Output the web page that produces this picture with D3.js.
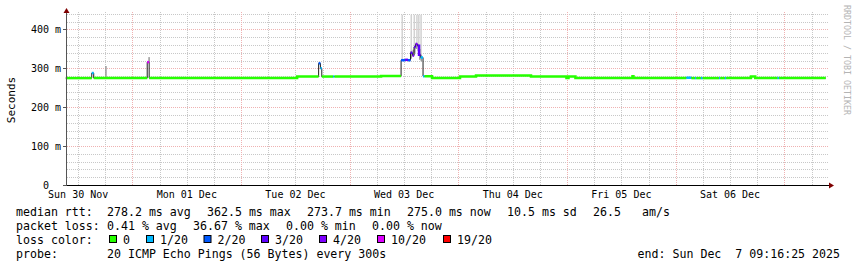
<!DOCTYPE html>
<html>
<head>
<meta charset="utf-8">
<script src="https://cdn.jsdelivr.net/npm/d3@7"></script>
<style>
  body { margin: 0; background: #fff; }
  svg { display: block; }
  text { font-family: "DejaVu Sans Mono", monospace; fill: #000; }
</style>
</head>
<body>
<div id="chart"></div>
<script>
const parseTime = d3.timeParse("%Y-%m-%d %H:%M");

// median rtt in ms, and lost pings out of 20, each value holds until the next time
const medTimes = [
  "2025-11-30 09:16", "2025-11-30 15:00", "2025-11-30 15:26", "2025-12-01 03:15", "2025-12-01 03:41",
  "2025-12-02 12:22", "2025-12-02 17:07", "2025-12-02 17:31", "2025-12-02 17:49", "2025-12-02 20:19",
  "2025-12-02 20:36", "2025-12-03 06:55", "2025-12-03 11:20", "2025-12-03 12:13", "2025-12-03 12:52",
  "2025-12-03 13:25", "2025-12-03 13:52", "2025-12-03 14:12", "2025-12-03 14:32", "2025-12-03 14:58",
  "2025-12-03 15:18", "2025-12-03 15:38", "2025-12-03 16:11", "2025-12-03 16:31", "2025-12-03 18:10",
  "2025-12-04 00:21", "2025-12-04 03:53", "2025-12-04 16:02", "2025-12-04 23:52", "2025-12-05 00:19",
  "2025-12-05 01:51", "2025-12-05 14:27", "2025-12-05 14:40", "2025-12-06 02:22", "2025-12-06 03:28",
  "2025-12-06 04:15", "2025-12-06 04:32", "2025-12-06 05:34", "2025-12-06 05:57", "2025-12-06 09:36",
  "2025-12-06 09:50", "2025-12-06 10:52", "2025-12-06 11:09", "2025-12-06 16:37", "2025-12-06 17:34",
  "2025-12-06 22:30", "2025-12-06 22:48", "2025-12-07 09:09"
];
const medValues = [
  275, 288, 275, 316, 275,
  279, 313, 300, 279, 279,
  279, 280.5, 321, 322, 321,
  340, 333, 355, 362.5, 358,
  335, 328, 280, 279.5, 275,
  279, 281.5, 279, 275, 279,
  275, 280, 275, 276, 275,
  275, 275, 275, 275, 275,
  275, 275, 275, 279, 275,
  275, 275, 275
];
const medLoss = [
  0, 1, 0, 10, 0,
  0, 2, 1, 0, 1,
  0, 0, 2, 3, 2,
  3, 4, 3, 4, 3,
  3, 1, 1, 0, 0,
  0, 0, 0, 0, 0,
  0, 0, 0, 1, 0,
  1, 0, 1, 0, 1,
  0, 1, 0, 0, 0,
  1, 0, 0
];

// smoke: spread of the single pings
const smokeTimes = ["2025-12-03 11:25", "2025-12-03 13:25", "2025-12-03 14:05", "2025-12-03 14:40", "2025-12-03 15:05", "2025-12-03 15:35"];
const smokeLow = [322, 330, 335, 350, 345, 330];
const smokeHigh = [438, 438, 438, 438, 438, 438];

const coreTimes = ["2025-11-30 17:58", "2025-12-01 03:30", "2025-12-03 13:25", "2025-12-03 13:52", "2025-12-03 14:12",
  "2025-12-03 14:32", "2025-12-03 14:58", "2025-12-03 15:18", "2025-12-03 15:38"];
const coreLow = [275, 316, 325, 330, 340, 350, 345, 322, 318];
const coreHigh = [306, 329, 345, 348, 358, 366, 362, 350, 335];

const dayTicks = ["2025-11-30 12:00", "2025-12-01 12:00", "2025-12-02 12:00", "2025-12-03 12:00",
  "2025-12-04 12:00", "2025-12-05 12:00", "2025-12-06 12:00"];
const dayLabels = ["Sun 30 Nov", "Mon 01 Dec", "Tue 02 Dec", "Wed 03 Dec", "Thu 04 Dec", "Fri 05 Dec", "Sat 06 Dec"];

const yTicks = [0, 100, 200, 300, 400];
const yLabels = ["0  ", "100 m", "200 m", "300 m", "400 m"];

const lossLabels = ["0", "1/20", "2/20", "3/20", "4/20", "10/20", "19/20"];

const rttLabel = "median rtt:";
const rttStats = ["278.2 ms avg", "362.5 ms max", "273.7 ms min", "275.0 ms now", "10.5 ms sd", "26.5", "am/s"];
const lossLabel = "packet loss:";
const lossStats = ["0.41 % avg", "36.67 % max", "0.00 % min", "0.00 % now"];
const probeLabel = "probe:";
const probeText = "20 ICMP Echo Pings (56 Bytes) every 300s";
const endText = "end: Sun Dec  7 09:16:25 2025";

const width = 857, height = 267;
const plotLeft = 67, plotRight = 829, plotTop = 12, plotBottom = 185;

const svg = d3.select("#chart").append("svg")
  .attr("width", width)
  .attr("height", height);

svg.append("rect").attr("width", width).attr("height", height).attr("fill", "#fff");

const x = d3.scaleTime()
  .domain([parseTime("2025-11-30 09:16"), parseTime("2025-12-07 09:16")])
  .range([65.8, 826.3]);

const y = d3.scaleLinear()
  .domain([0, 445])
  .range([plotBottom, plotTop]);

const lossColor = d3.scaleThreshold()
  .domain([1, 2, 3, 4, 5, 11])
  .range(["#26ff00", "#00b8ff", "#0059ff", "#5e00ff", "#7e00ff", "#dd00ff", "#ff0000"]);

// grid
const grid = svg.append("g");
const minorY = d3.range(20, 445, 20).filter(v => v % 100 !== 0);
grid.selectAll(".hmin").data(minorY).enter().append("line")
  .attr("x1", plotLeft).attr("x2", plotRight)
  .attr("y1", d => Math.round(y(d)) + 0.5).attr("y2", d => Math.round(y(d)) + 0.5)
  .attr("stroke", "#c8c8c8").attr("stroke-dasharray", "1,1");

const sixHours = d3.timeHour.every(6).range(x.domain()[0], x.domain()[1]);
grid.selectAll(".vgrid").data(sixHours).enter().append("line")
  .attr("x1", d => Math.round(x(d)) + 0.5).attr("x2", d => Math.round(x(d)) + 0.5)
  .attr("y1", plotTop).attr("y2", plotBottom)
  .attr("stroke", d => d.getHours() === 0 ? "#efb2b2" : "#c8c8c8")
  .attr("stroke-dasharray", "1,1");

grid.selectAll(".hmaj").data(yTicks.slice(1)).enter().append("line")
  .attr("x1", plotLeft).attr("x2", plotRight)
  .attr("y1", d => Math.round(y(d)) + 0.5).attr("y2", d => Math.round(y(d)) + 0.5)
  .attr("stroke", "#efb2b2").attr("stroke-dasharray", "1,1");

// smoke
const plot = svg.append("g");
const step = 20 * 60 * 1000;
plot.selectAll(".smoke").data(smokeTimes).enter().append("rect")
  .attr("x", d => x(parseTime(d)))
  .attr("width", d => x(new Date(+parseTime(d) + step)) - x(parseTime(d)))
  .attr("y", (d, i) => y(smokeHigh[i]))
  .attr("height", (d, i) => y(smokeLow[i]) - y(smokeHigh[i]))
  .attr("fill", "#d2d2d2");

plot.selectAll(".core").data(coreTimes).enter().append("rect")
  .attr("x", d => x(parseTime(d)))
  .attr("width", d => x(new Date(+parseTime(d) + step)) - x(parseTime(d)))
  .attr("y", (d, i) => y(coreHigh[i]))
  .attr("height", (d, i) => y(coreLow[i]) - y(coreHigh[i]))
  .attr("fill", "#999");

// median line, black underneath, coloured by loss on top
const pts = medTimes.map((t, i) => ({ t: parseTime(t), v: medValues[i], loss: medLoss[i] }));
const line = d3.line().x(d => x(d.t)).y(d => y(d.v)).curve(d3.curveStepAfter);

plot.append("path").datum(pts)
  .attr("d", line)
  .attr("fill", "none").attr("stroke", "#202020").attr("stroke-width", 1);

// split into runs of one colour, big jumps stay black
const runs = [];
for (let i = 0; i < pts.length - 1; i++) {
  const c = lossColor(pts[i].loss);
  const last = runs[runs.length - 1];
  const jump = i > 0 ? Math.abs(pts[i].v - pts[i - 1].v) : 0;
  if (!last || last.color !== c || jump > 30) {
    if (last && last.open) { last.pts.push({ t: pts[i].t, v: pts[i - 1].v }); last.open = false; }
    runs.push({ color: c, pts: [], open: true });
  }
  runs[runs.length - 1].pts.push(pts[i]);
}
const lastRun = runs[runs.length - 1];
lastRun.pts.push({ t: pts[pts.length - 1].t, v: pts[pts.length - 2].v });

plot.selectAll(".run").data(runs).enter().append("path")
  .attr("d", d => line(d.pts))
  .attr("fill", "none")
  .attr("stroke", d => d.color)
  .attr("stroke-width", 2.5);

// axes
svg.append("line").attr("x1", plotLeft - 0.5).attr("x2", 830).attr("y1", plotBottom + 0.5).attr("y2", plotBottom + 0.5)
  .attr("stroke", "#000");
svg.append("line").attr("x1", plotLeft - 0.5).attr("x2", plotLeft - 0.5).attr("y1", plotBottom + 1).attr("y2", 11)
  .attr("stroke", "#555");
svg.append("path").attr("d", "M829,182.5L834,185.5L829,188.5Z").attr("fill", "#7f0000");
svg.append("path").attr("d", "M63.5,13L66.5,8L69.5,13Z").attr("fill", "#7f0000");

svg.selectAll(".ytick").data(yTicks).enter().append("line")
  .attr("x1", plotLeft - 4).attr("x2", plotLeft)
  .attr("y1", d => Math.round(y(d)) + 0.5).attr("y2", d => Math.round(y(d)) + 0.5)
  .attr("stroke", "#555");

svg.selectAll(".ylab").data(yLabels).enter().append("text")
  .attr("x", 61)
  .attr("y", (d, i) => y(yTicks[i]) + 3.5)
  .attr("text-anchor", "end")
  .attr("font-size", 10)
  .style("white-space", "pre")
  .text(d => d);

svg.selectAll(".xlab").data(dayLabels).enter().append("text")
  .attr("x", (d, i) => x(parseTime(dayTicks[i])))
  .attr("y", 198)
  .attr("text-anchor", "middle")
  .attr("font-size", 10)
  .text(d => d);

svg.append("text")
  .attr("transform", "translate(15,100) rotate(-90)")
  .attr("text-anchor", "middle")
  .attr("font-size", 11)
  .text("Seconds");

svg.append("text")
  .attr("transform", "translate(844,5) rotate(90)")
  .attr("font-size", 8.3)
  .style("fill", "#b4b4b4")
  .text("RRDTOOL / TOBI OETIKER");

// legend
const fs = 11.6;
const rowY = [215.5, 229.5, 243.5, 257.5];
const rttX = [107, 207, 307, 407, 507, 593, 642];
const lossX = [107, 193, 286, 372];

svg.append("text").attr("x", 16).attr("y", rowY[0]).attr("font-size", fs).text(rttLabel);
svg.selectAll(".rtt").data(rttStats).enter().append("text")
  .attr("x", (d, i) => rttX[i]).attr("y", rowY[0]).attr("font-size", fs).text(d => d);

svg.append("text").attr("x", 16).attr("y", rowY[1]).attr("font-size", fs).text(lossLabel);
svg.selectAll(".pl").data(lossStats).enter().append("text")
  .attr("x", (d, i) => lossX[i]).attr("y", rowY[1]).attr("font-size", fs).text(d => d);

svg.append("text").attr("x", 16).attr("y", rowY[2]).attr("font-size", fs).text("loss color:");
const boxX = [109, 146, 203.5, 261, 319, 377, 443];
const lossLevels = [0, 1, 2, 3, 4, 10, 19];
const leg = svg.selectAll(".lc").data(lossLabels).enter().append("g")
  .attr("transform", (d, i) => `translate(${boxX[i]},0)`);
leg.append("rect")
  .attr("x", 0.5).attr("y", 235.5).attr("width", 7).attr("height", 7)
  .attr("fill", (d, i) => lossColor(lossLevels[i]))
  .attr("stroke", "#000");
leg.append("text")
  .attr("x", 14).attr("y", rowY[2]).attr("font-size", fs)
  .text(d => d);

svg.append("text").attr("x", 16).attr("y", rowY[3]).attr("font-size", fs).text(probeLabel);
svg.append("text").attr("x", 107).attr("y", rowY[3]).attr("font-size", fs).text(probeText);
svg.append("text").attr("x", 840).attr("y", rowY[3]).attr("font-size", fs)
  .attr("text-anchor", "end").style("white-space", "pre").text(endText);
</script>
</body>
</html>
